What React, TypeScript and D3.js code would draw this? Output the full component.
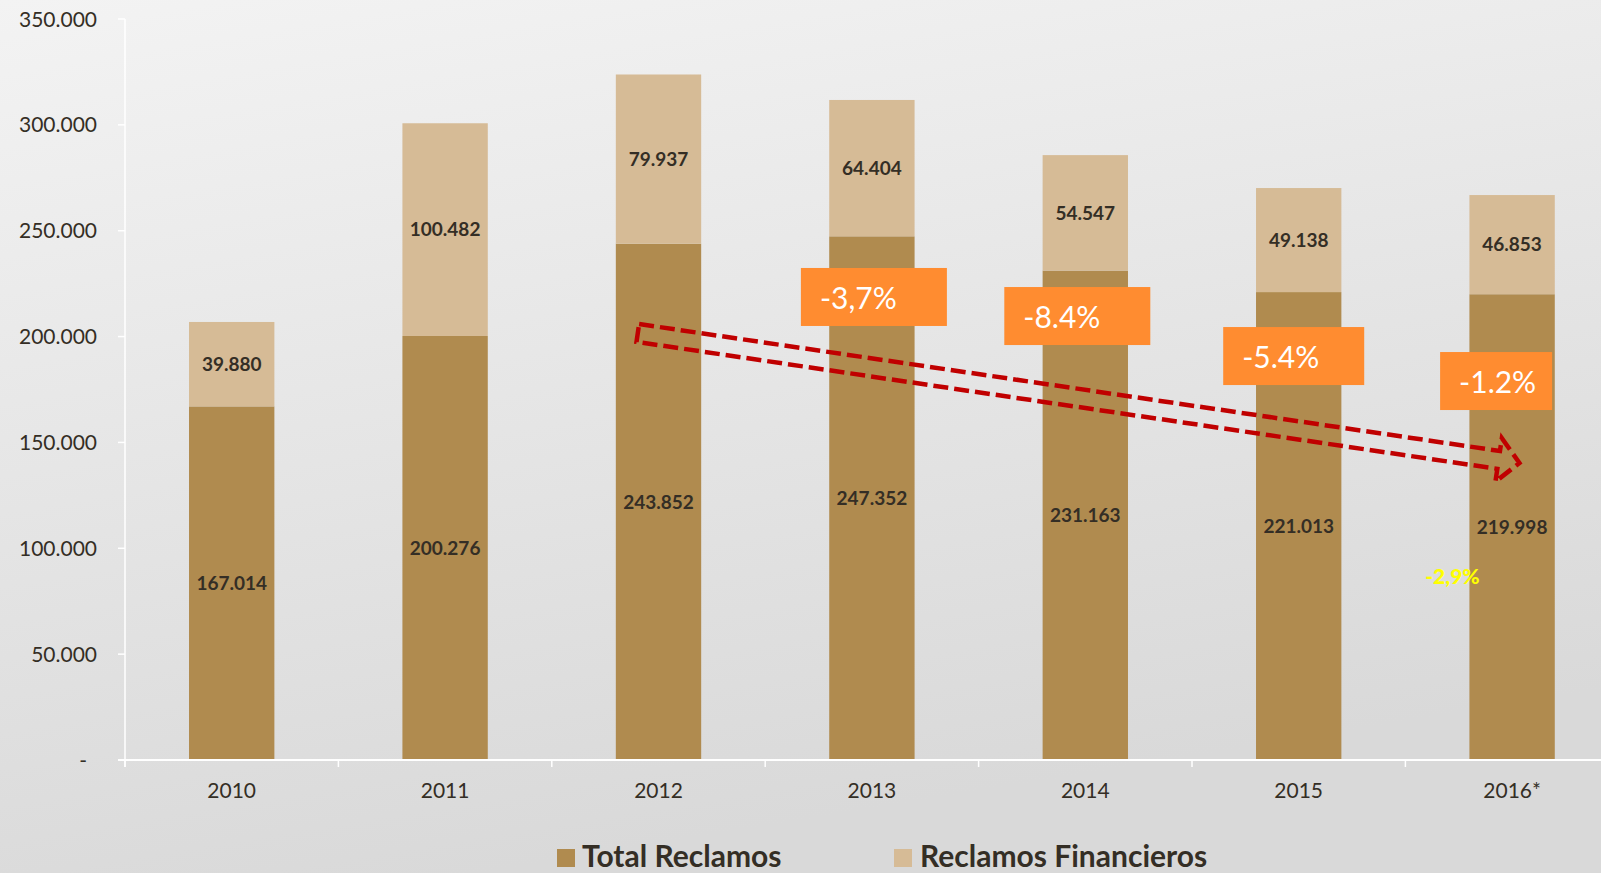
import React from 'react';
import * as d3 from 'd3';

const years = ['2010', '2011', '2012', '2013', '2014', '2015', '2016*'];
const totalReclamos = [167014, 200276, 243852, 247352, 231163, 221013, 219998];
const reclamosFinancieros = [39880, 100482, 79937, 64404, 54547, 49138, 46853];
const yTicks = [0, 50000, 100000, 150000, 200000, 250000, 300000, 350000];

// variation boxes: label, year they sit over, value of the box top
const changeLabels = ['-3,7%', '-8.4%', '-5.4%', '-1.2%'];
const changeYears = ['2013', '2014', '2015', '2016*'];
const changeTops = [232400, 223400, 204500, 192700];
const changeWidths = [146, 146, 141, 112];
const changeShifts = [2, -8, -5, -16];

const W = 1601;
const H = 873;
const dark = '#B08B4F';
const light = '#D6BB96';
const textCol = '#342E25';
const font = 'Lato, "Open Sans", sans-serif';

const locale = d3.formatLocale({ decimal: ',', thousands: '.', grouping: [3], currency: ['', ''] });
const fmt = locale.format(',.0f');

const App: React.FC = () => {
  const x = d3.scaleBand<string>()
    .domain(years)
    .range([125, 125 + 7 * 213.4])
    .paddingInner(0.6)
    .paddingOuter(0.3);

  const y = d3.scaleLinear().domain([0, 350000]).range([760, 19]);
  const step = x.step();
  const bw = x.bandwidth();

  // dashed outline arrow
  const x0 = x('2012')! + 22, y0 = y(201700);
  const x1 = x('2016*')! + 50, y1 = y(140300);
  const L = Math.hypot(x1 - x0, y1 - y0);
  const ang = (Math.atan2(y1 - y0, x1 - x0) * 180) / Math.PI;
  const arrow = `M0,-9 L${L - 21},-9 L${L - 21},-22 L${L},0 L${L - 21},22 L${L - 21},9 L0,9 Z`;

  return (
    <svg width={W} height={H} style={{ position: 'absolute', left: 0, top: 0 }}>
      <defs>
        <linearGradient id="bg" x1="0" y1="0" x2="0.3" y2="1">
          <stop offset="0" stopColor="#F3F3F3" />
          <stop offset="1" stopColor="#D9D9D9" />
        </linearGradient>
      </defs>
      <rect width={W} height={H} fill="url(#bg)" />

      {/* bars */}
      {years.map((yr, i) => {
        const base = totalReclamos[i];
        const top = base + reclamosFinancieros[i];
        const bx = x(yr)!;
        return (
          <g key={yr}>
            <rect x={bx} y={y(base)} width={bw} height={y(0) - y(base)} fill={dark} />
            <rect x={bx} y={y(top)} width={bw} height={y(base) - y(top)} fill={light} />
            <text x={bx + bw / 2} y={y(base / 2)} dy="0.36em" textAnchor="middle"
              fontFamily={font} fontWeight="bold" fontSize={19} fill={textCol}>{fmt(base)}</text>
            <text x={bx + bw / 2} y={y((base + top) / 2)} dy="0.36em" textAnchor="middle"
              fontFamily={font} fontWeight="bold" fontSize={19} fill={textCol}>{fmt(reclamosFinancieros[i])}</text>
          </g>
        );
      })}

      {/* axes */}
      <line x1={125} x2={125} y1={y(350000)} y2={767} stroke="#fff" strokeWidth={1.5} />
      <line x1={118} x2={125 + 7 * 213.4} y1={760} y2={760} stroke="#fff" strokeWidth={2} />
      {yTicks.map((t) => (
        <g key={t}>
          <line x1={118} x2={125} y1={y(t)} y2={y(t)} stroke="#fff" strokeWidth={1.5} />
          <text x={t === 0 ? 87 : 97} y={y(t)} dy="0.36em" textAnchor="end"
            fontFamily={font} fontSize={21} fill={textCol}>{t === 0 ? '-' : fmt(t)}</text>
        </g>
      ))}
      {d3.range(years.length + 1).map((k) => (
        <line key={k} x1={125 + k * step} x2={125 + k * step} y1={760} y2={767} stroke="#fff" strokeWidth={1.5} />
      ))}
      {years.map((yr) => (
        <text key={yr} x={x(yr)! + bw / 2} y={790} dy="0.36em" textAnchor="middle"
          fontFamily={font} fontSize={21} fill={textCol}>{yr}</text>
      ))}

      {/* variation boxes */}
      {changeLabels.map((lab, i) => {
        const cx = x(changeYears[i])! + bw / 2 + changeShifts[i];
        const w = changeWidths[i];
        const top = y(changeTops[i]);
        return (
          <g key={lab}>
            <rect x={cx - w / 2} y={top} width={w} height={58} fill="#FF8C30" />
            <text x={cx - w / 2 + 19} y={top + 30} dy="0.36em" fontFamily={font}
              fontSize={30} fill="#fff">{lab}</text>
          </g>
        );
      })}

      <path d={arrow} transform={`translate(${x0},${y0}) rotate(${ang})`} fill="none"
        stroke="#C00000" strokeWidth={4.5} strokeDasharray="15 6" />

      <text x={x('2016*')! - 17} y={576} dy="0.36em" textAnchor="middle" fontFamily={font}
        fontWeight="900" fontSize={21} fill="#FFFF00">-2,9%</text>

      {/* legend */}
      <rect x={557} y={849} width={18} height={18} fill={dark} />
      <text x={582} y={867} fontFamily={font} fontWeight="bold" fontSize={30} fill={textCol}>Total Reclamos</text>
      <rect x={894} y={849} width={18} height={18} fill={light} />
      <text x={920} y={867} fontFamily={font} fontWeight="bold" fontSize={30} fill={textCol}>Reclamos Financieros</text>
    </svg>
  );
};

export default App;
